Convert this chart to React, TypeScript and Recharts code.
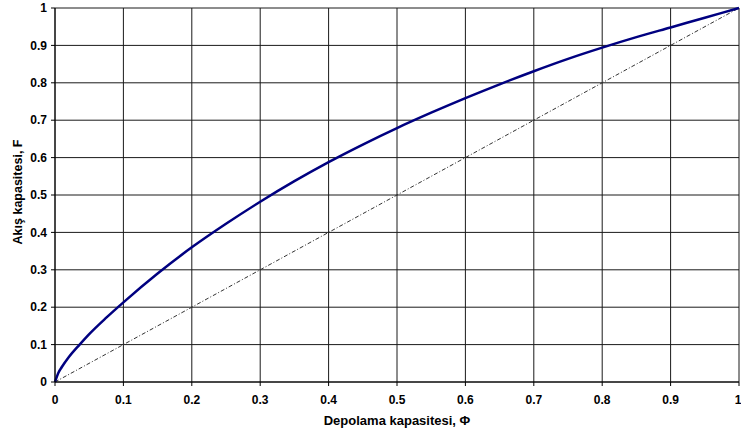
import { CartesianGrid, Line, LineChart, XAxis, YAxis } from 'recharts'

const CHART_WIDTH = 741
const CHART_HEIGHT = 437
const FONT = '"Liberation Sans", Arial, sans-serif'

/** Storage capacity (Φ) values where the curve was read. */
const PHI = [
  0, 0.005, 0.01, 0.02, 0.036, 0.05, 0.075, 0.1, 0.15, 0.2, 0.25, 0.3, 0.35, 0.4, 0.45, 0.5,
  0.55, 0.6, 0.65, 0.7, 0.75, 0.8, 0.85, 0.9, 0.95, 1
]
/** Flow capacity (F) read at each Φ. */
const FLOW = [
  0, 0.025, 0.04, 0.066, 0.1, 0.128, 0.172, 0.213, 0.29, 0.36, 0.423, 0.482, 0.537, 0.588,
  0.635, 0.679, 0.72, 0.759, 0.796, 0.831, 0.864, 0.894, 0.922, 0.948, 0.974, 1
]
/** Homogeneous reference line F = Φ. */
const DIAGONAL_PHI = [0, 1]
const DIAGONAL_FLOW = [0, 1]

const TICKS = [0, 0.1, 0.2, 0.3, 0.4, 0.5, 0.6, 0.7, 0.8, 0.9, 1]

const X_TITLE = 'Depolama kapasitesi, Φ'
const Y_TITLE = 'Akış kapasitesi, F'

const curveData = PHI.map((phi, i) => ({ phi, flow: FLOW[i] }))
const diagonalData = DIAGONAL_PHI.map((phi, i) => ({ phi, flow: DIAGONAL_FLOW[i] }))

const tickStyle = { fontFamily: FONT, fontSize: 12, fontWeight: 700, fill: '#000' }

function XTitle({ viewBox }: any) {
  const cx = viewBox.x + viewBox.width / 2
  return (
    <text
      x={cx}
      y={425}
      textAnchor='middle'
      style={{ fontFamily: FONT, fontSize: 13, fontWeight: 700 }}
      fill='#000'
    >
      {X_TITLE}
    </text>
  )
}

function YTitle({ viewBox }: any) {
  const cy = viewBox.y + viewBox.height / 2 - 3
  return (
    <text
      x={22}
      y={cy}
      textAnchor='middle'
      transform={`rotate(-90, 22, ${cy})`}
      style={{ fontFamily: FONT, fontSize: 12.5, fontWeight: 700 }}
      fill='#000'
    >
      {Y_TITLE}
    </text>
  )
}

export default function App() {
  return (
    <div style={{ position: 'absolute', left: 0, top: 0, background: '#fff' }}>
      <LineChart
        width={CHART_WIDTH}
        height={CHART_HEIGHT}
        margin={{ top: 8, right: 2, bottom: 0, left: 0 }}
      >
        <CartesianGrid
          stroke='#1a1a1a'
          strokeWidth={1}
          horizontalValues={TICKS}
          verticalValues={TICKS}
        />
        <XAxis
          dataKey='phi'
          type='number'
          domain={[0, 1]}
          ticks={TICKS}
          height={55}
          tickSize={4}
          tickMargin={9}
          tick={tickStyle}
          stroke='#000'
          allowDuplicatedCategory={false}
          label={<XTitle />}
        />
        <YAxis
          dataKey='flow'
          type='number'
          domain={[0, 1]}
          ticks={TICKS}
          width={55}
          tickSize={4}
          tickMargin={4}
          tick={tickStyle}
          stroke='#000'
          label={<YTitle />}
        />
        <Line
          data={diagonalData}
          dataKey='flow'
          type='linear'
          stroke='#333'
          strokeWidth={1}
          strokeDasharray='4 2 1 2'
          dot={false}
          isAnimationActive={false}
        />
        <Line
          data={curveData}
          dataKey='flow'
          type='monotone'
          stroke='#000080'
          strokeWidth={2.5}
          dot={false}
          isAnimationActive={false}
        />
      </LineChart>
    </div>
  )
}
